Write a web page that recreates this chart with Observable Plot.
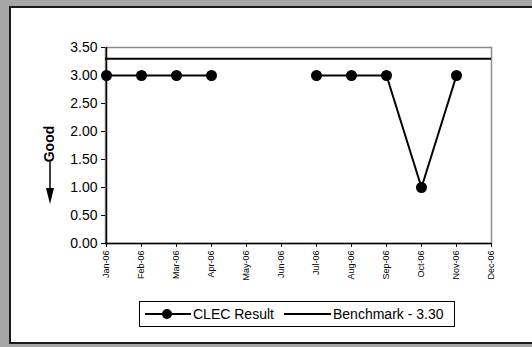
<!DOCTYPE html>
<html>
<head>
<meta charset="utf-8">
<script src="https://cdn.jsdelivr.net/npm/d3@7"></script>
<script src="https://cdn.jsdelivr.net/npm/@observablehq/plot@0.6"></script>
<style>
  html, body { margin: 0; padding: 0; }
  body { width: 532px; height: 347px; background: #a6a6a6; position: relative; overflow: hidden; font-family: Arial, "Liberation Sans", sans-serif; }
  #panel { position: absolute; left: 9px; top: 6px; width: 540px; height: 334px; background: #fff; border-left: 2px solid #1a1a1a; border-top: 2px solid #1a1a1a; border-bottom: 2px solid #1a1a1a; }
  #chart { position: absolute; left: 0; top: 0; }
  #good { position: absolute; left: 29px; top: 136px; width: 40px; height: 16px; transform: rotate(-90deg); font-weight: bold; font-size: 14px; line-height: 16px; text-align: center; color: #000; }
  #arrow { position: absolute; left: 44px; top: 162px; }
  #legend { position: absolute; left: 139px; top: 301px; width: 314px; height: 24px; border: 1px solid #000; background: #fff; }
  #legend svg { position: absolute; left: 0; top: 0; }
  .lt { position: absolute; top: 4px; font-size: 14px; line-height: 16px; white-space: nowrap; }
</style>
</head>
<body>
<div id="panel"></div>
<div id="chart"></div>
<div id="good">Good</div>
<svg id="arrow" width="12" height="44"><line x1="6" y1="0" x2="6" y2="30" stroke="#000" stroke-width="1.5"/><polygon points="2,26 10,26 6,42" fill="#000"/></svg>
<div id="legend">
  <svg width="314" height="24">
    <line x1="5" y1="12" x2="51" y2="12" stroke="#000" stroke-width="2"/>
    <circle cx="27" cy="12" r="5" fill="#000"/>
    <line x1="144" y1="12" x2="191" y2="12" stroke="#000" stroke-width="2"/>
  </svg>
  <span class="lt" style="left:53px">CLEC Result</span>
  <span class="lt" style="left:193px">Benchmark - 3.30</span>
</div>
<script>
const months = ["Jan-06","Feb-06","Mar-06","Apr-06","May-06","Jun-06","Jul-06","Aug-06","Sep-06","Oct-06","Nov-06","Dec-06"];
const clecResult = [3, 3, 3, 3, null, null, 3, 3, 3, 1, 3, null];
const benchmark = 3.30;
const yTicks = [0, 0.5, 1, 1.5, 2, 2.5, 3, 3.5];

const data = months.map((m, i) => ({month: m, value: clecResult[i]}));

const chart = Plot.plot({
  width: 532,
  height: 347,
  marginLeft: 105,
  marginRight: 41,
  marginTop: 47,
  marginBottom: 104,
  style: {background: "transparent", fontFamily: "Arial, 'Liberation Sans', sans-serif", color: "#000"},
  x: {type: "point", domain: months, padding: 0},
  y: {domain: [0, 3.5]},
  marks: [
    Plot.frame({stroke: "#8c8c8c", strokeWidth: 1.5}),
    Plot.ruleY([0], {stroke: "#000", strokeWidth: 1.5}),
    Plot.ruleX([months[0]], {stroke: "#000", strokeWidth: 1.5}),
    Plot.axisY({ticks: yTicks, tickFormat: d3.format(".2f"), tickSize: 4, tickPadding: 4, fontSize: 14, label: null, stroke: "#000"}),
    Plot.axisX({tickRotate: -90, tickSize: 4, tickPadding: 3, fontSize: 9, label: null, stroke: "#000"}),
    Plot.ruleY([benchmark], {stroke: "#000", strokeWidth: 2}),
    Plot.line(data, {x: "month", y: "value", stroke: "#000", strokeWidth: 2}),
    Plot.dot(data, {x: "month", y: "value", r: 5.5, fill: "#000", stroke: "none"})
  ]
});
document.getElementById("chart").appendChild(chart);
</script>
</body>
</html>
